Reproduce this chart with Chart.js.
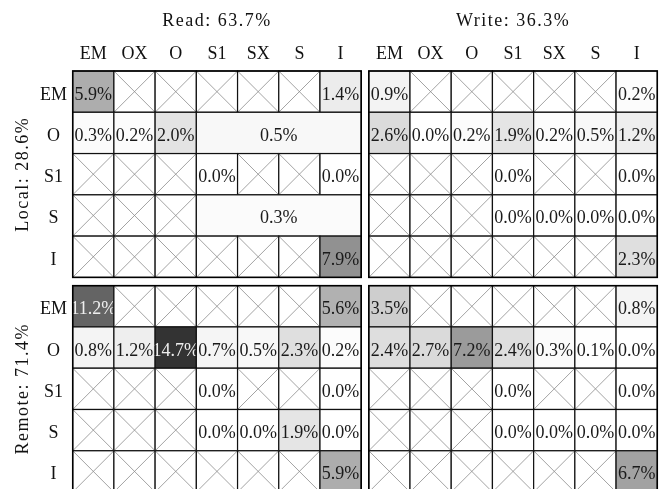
<!DOCTYPE html>
<html>
<head>
<meta charset="utf-8">
<script src="https://cdn.jsdelivr.net/npm/chart.js@4.4.0/dist/chart.umd.min.js"></script>
<style>
  html, body { margin: 0; padding: 0; background: #fff; }
  #wrap { width: 663px; height: 489px; }
</style>
</head>
<body>
<div id="wrap"><canvas id="chart"></canvas></div>
<script>
const columns = ["EM", "OX", "O", "S1", "SX", "S", "I"];
const rows = ["EM", "O", "S1", "S", "I"];
const opTitles = ["Read: 63.7%", "Write: 36.3%"];
const placeTitles = ["Local: 28.6%", "Remote: 71.4%"];

// null = crossed out cell
const localRead = [
  [5.9, null, null, null, null, null, 1.4],
  [0.3, 0.2, 2.0, 0.5, null, null, null],
  [null, null, null, 0.0, null, null, 0.0],
  [null, null, null, 0.3, null, null, null],
  [null, null, null, null, null, null, 7.9]
];
const localWrite = [
  [0.9, null, null, null, null, null, 0.2],
  [2.6, 0.0, 0.2, 1.9, 0.2, 0.5, 1.2],
  [null, null, null, 0.0, null, null, 0.0],
  [null, null, null, 0.0, 0.0, 0.0, 0.0],
  [null, null, null, null, null, null, 2.3]
];
const remoteRead = [
  [11.2, null, null, null, null, null, 5.6],
  [0.8, 1.2, 14.7, 0.7, 0.5, 2.3, 0.2],
  [null, null, null, 0.0, null, null, 0.0],
  [null, null, null, 0.0, 0.0, 1.9, 0.0],
  [null, null, null, null, null, null, 5.9]
];
const remoteWrite = [
  [3.5, null, null, null, null, null, 0.8],
  [2.4, 2.7, 7.2, 2.4, 0.3, 0.1, 0.0],
  [null, null, null, 0.0, null, null, 0.0],
  [null, null, null, 0.0, 0.0, 0.0, 0.0],
  [null, null, null, null, null, null, 6.7]
];

// merged cells: [row, first column, last column]
const localReadSpans = [["O", "S1", "I"], ["S", "S1", "I"]];

const panels = [
  { op: 0, place: 0, values: localRead, spans: localReadSpans },
  { op: 1, place: 0, values: localWrite, spans: [] },
  { op: 0, place: 1, values: remoteRead, spans: [] },
  { op: 1, place: 1, values: remoteWrite, spans: [] }
];

const maxValue = 14.7;
const gapX = 0.184;
const gapY = 0.2;
const font = '18px "Liberation Serif", "DejaVu Serif", serif';

const shade = v => {
  const g = Math.round(255 * (1 - 0.8 * v / maxValue));
  return `rgb(${g},${g},${g})`;
};

const tablePlugin = {
  id: "table",
  afterDraw(chart) {
    const { ctx, scales: { x, y } } = chart;
    const px = c => x.getPixelForValue(c);
    const py = r => y.getPixelForValue(r);

    ctx.save();
    ctx.font = font;

    panels.forEach(p => {
      const cx = p.op * (columns.length + gapX);
      const ry = p.place * (rows.length + gapY);

      rows.forEach((rowName, r) => {
        const span = p.spans.find(s => s[0] === rowName);
        const from = span ? columns.indexOf(span[1]) : -1;
        const to = span ? columns.indexOf(span[2]) : -1;
        const y0 = py(ry + r), y1 = py(ry + r + 1);

        columns.forEach((colName, c) => {
          if (span && c > from && c <= to) return;
          const last = span && c === from ? to : c;
          const x0 = px(cx + c), x1 = px(cx + last + 1);
          const v = p.values[r][c];

          if (v === null) {
            ctx.fillStyle = "#fff";
            ctx.fillRect(x0, y0, x1 - x0, y1 - y0);
            ctx.strokeStyle = "#8c8c8c";
            ctx.lineWidth = 0.8;
            ctx.beginPath();
            ctx.moveTo(x0, y0); ctx.lineTo(x1, y1);
            ctx.moveTo(x1, y0); ctx.lineTo(x0, y1);
            ctx.stroke();
          } else {
            ctx.fillStyle = shade(v);
            ctx.fillRect(x0, y0, x1 - x0, y1 - y0);
            const label = v.toFixed(1) + "%";
            const w = ctx.measureText(label).width;
            ctx.fillStyle = v >= 10 ? "#eeeeee" : "#1a1a1a";
            const baseY = (y0 + y1) / 2 + 8;
            if (span && c === from || w > x1 - x0 - 4) {
              ctx.textAlign = "center";
              ctx.fillText(label, (x0 + x1) / 2, baseY);
            } else {
              ctx.textAlign = "left";
              ctx.fillText(label, x0 + 2.5, baseY);
            }
          }
          ctx.strokeStyle = "#111";
          ctx.lineWidth = 1.2;
          ctx.strokeRect(x0, y0, x1 - x0, y1 - y0);
        });
      });

      // outer frame
      ctx.strokeStyle = "#000";
      ctx.lineWidth = 1.5;
      ctx.strokeRect(px(cx), py(ry), px(cx + columns.length) - px(cx), py(ry + rows.length) - py(ry));
    });

    // column headers and operation titles
    ctx.fillStyle = "#111";
    ctx.textAlign = "center";
    opTitles.forEach((t, o) => {
      const cx = o * (columns.length + gapX);
      ctx.letterSpacing = "1.5px";
      ctx.fillText(t, (px(cx) + px(cx + columns.length)) / 2, y.top - 45);
      ctx.letterSpacing = "0px";
      columns.forEach((name, c) => {
        ctx.fillText(name, (px(cx + c) + px(cx + c + 1)) / 2, y.top - 12.5);
      });
    });

    // row labels and place titles
    placeTitles.forEach((t, pl) => {
      const ry = pl * (rows.length + gapY);
      rows.forEach((name, r) => {
        ctx.fillText(name, 53.5, (py(ry + r) + py(ry + r + 1)) / 2 + 8);
      });
      ctx.save();
      ctx.letterSpacing = "1.5px";
      ctx.translate(27.5, (py(ry) + py(ry + rows.length)) / 2);
      ctx.rotate(-Math.PI / 2);
      ctx.fillText(t, 0, 0);
      ctx.restore();
    });

    ctx.restore();
  }
};

new Chart(document.getElementById("chart").getContext("2d"), {
  type: "scatter",
  data: { datasets: [] },
  options: {
    responsive: true,
    maintainAspectRatio: false,
    animation: false,
    layout: { padding: { left: 72.7, right: 5.7, top: 71, bottom: 0 } },
    plugins: { legend: { display: false }, tooltip: { enabled: false } },
    scales: {
      x: { type: "linear", display: false, min: 0, max: 2 * columns.length + gapX },
      y: { type: "linear", display: false, reverse: true, min: 0, max: (489 - 71) / 41.28 }
    }
  },
  plugins: [tablePlugin]
});
</script>
</body>
</html>
